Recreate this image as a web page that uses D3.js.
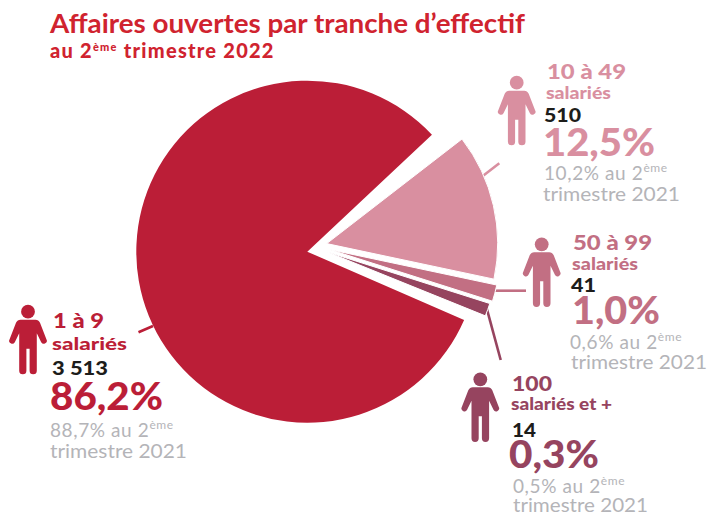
<!DOCTYPE html>
<html><head><meta charset="utf-8">
<script src="https://cdnjs.cloudflare.com/ajax/libs/d3/7.8.5/d3.min.js"></script>
<style>html,body{margin:0;padding:0;background:#fff}svg{display:block}text{font-family:Lato,"Open Sans",sans-serif}</style>
</head><body><div id="c"></div>
<script>
// ---- data ----
const categories = ["1 à 9", "10 à 49", "50 à 99", "100"];
const subLabels = ["salariés", "salariés", "salariés", "salariés et +"];
const counts = ["3 513", "510", "41", "14"];
const shares = ["86,2%", "12,5%", "1,0%", "0,3%"];
const priorShares = ["88,7%", "10,2%", "0,6%", "0,5%"];
// slice sweep as drawn in the picture, in degrees (the drawing is not strictly proportional)
const drawnSweep = [293.3, 49.7, 5.6, 4.4];

// ---- style and layout ----
const colors = ["#BB1E37", "#D98FA0", "#C26F83", "#96445F"];
const apex = [[307.3, 251.7], [326.7, 243.6], [329.5, 249.5], [326.8, 251.8]];
const firstAngle = [113.5, 52.3]; // main slice start, small slices start
const radius = 171;
const W = 709, H = 515;
const rad = Math.PI / 180;

const svg = d3.select("#c").append("svg").attr("width", W).attr("height", H);

const grouped = [[0], [1, 2, 3]];
const arcGen = d3.arc().innerRadius(0).outerRadius(radius);
const slices = [];
grouped.forEach((idx, g) => {
  const total = d3.sum(idx, i => drawnSweep[i]);
  const pie = d3.pie().sort(null).value(i => drawnSweep[i])
    .startAngle(firstAngle[g] * rad).endAngle((firstAngle[g] + total) * rad);
  pie(idx).forEach(d => slices.push({ i: d.data, startAngle: d.startAngle, endAngle: d.endAngle }));
});

// leader lines, under the slices
const leaderEnds = [[138.5, 332.3], [499.3, 163.3], [526, 290.7], [500.7, 360]];
const leaderAnchor = [[153, 326], [481.5, 177], [495, 290.7], [486.7, 308.3]];
svg.selectAll("line.leader").data(slices).join("line").attr("class", "leader")
  .attr("x1", d => leaderAnchor[d.i][0]).attr("y1", d => leaderAnchor[d.i][1])
  .attr("x2", d => leaderEnds[d.i][0]).attr("y2", d => leaderEnds[d.i][1])
  .attr("stroke", d => colors[d.i]).attr("stroke-width", 2.6);

svg.selectAll("path.slice").data(slices).join("path").attr("class", "slice")
  .attr("transform", d => `translate(${apex[d.i]})`)
  .attr("d", arcGen).attr("fill", d => colors[d.i])
  .attr("stroke", "#fff").attr("stroke-width", d => d.i >= 1 ? 1 : 0);

// title
const titleColor = "#D0232F";
svg.append("text").attr("x", 50).attr("y", 33).attr("fill", titleColor)
  .attr("font-size", 26).attr("font-weight", 700)
  .attr("textLength", 475).attr("lengthAdjust", "spacingAndGlyphs")
  .text("Affaires ouvertes par tranche d’effectif");
const sub = svg.append("text").attr("x", 50).attr("y", 58).attr("fill", titleColor)
  .attr("font-size", 20).attr("font-weight", 900).attr("letter-spacing", 1.25);
sub.append("tspan").text("au 2");
sub.append("tspan").attr("font-size", 11).attr("dy", -7).text("ème");
sub.append("tspan").attr("dy", 7).text(" trimestre 2022");

// person icon, drawn around the head centre
const personBody = "M-7.5,8H7.5Q10.5,8 12,11L18.4,27.5A3,3 0 0 1 13.2,30.5L8.8,21.5V59A3.6,3.6 0 0 1 1.6,59V37H-1.6V59A3.6,3.6 0 0 1 -8.8,59V21.5L-13.2,30.5A3,3 0 0 1 -18.4,27.5L-12,11Q-10.5,8 -7.5,8Z";
const heads = [[28, 311.7], [516.7, 82.7], [541.7, 244.3], [480.3, 379.3]];
const icons = svg.selectAll("g.icon").data(categories).join("g").attr("class", "icon")
  .attr("transform", (d, i) => `translate(${heads[i]})`).attr("fill", (d, i) => colors[i]);
icons.append("circle").attr("r", 6.9);
icons.append("path").attr("d", personBody);

// label blocks: [x, baseline, width] per text row
const catRow = [[53, 328, 51], [547, 79, 79], [573, 250, 79], [512, 391, 40]];
const subRow = [[52, 350, 75], [546, 99, 65], [572, 270, 66], [511, 410, 101]];
const cntRow = [[52, 375, 56], [544, 122, 37], [571, 292, 25], [512, 437, 24]];
const pctRow = [[50, 410, 113], [543, 156, 112], [572, 324, 88], [509, 468, 90]];
const priorRow = [[50, 437], [544, 180], [570, 349], [513, 493]];
const yearRow = [[50, 458, 137], [543, 201, 137], [571, 369, 136], [513, 512, 135]];
const ink = "#1D1D1B", grey = "#B4B4B8";

function row(cfg, texts, size, weight, fill) {
  svg.selectAll(null).data(texts).join("text")
    .attr("x", (d, i) => cfg[i][0]).attr("y", (d, i) => cfg[i][1])
    .attr("font-size", size).attr("font-weight", weight)
    .attr("fill", (d, i) => fill(i))
    .attr("textLength", (d, i) => cfg[i][2]).attr("lengthAdjust", "spacingAndGlyphs")
    .text(d => d);
}
row(catRow, categories, 21, 900, i => colors[i]);
row(subRow, subLabels, 17.5, 900, i => colors[i]);
row(cntRow, counts, 18.5, 900, () => ink);
row(pctRow, shares, 37, 900, i => colors[i]);
row(yearRow, categories.map(() => "trimestre 2021"), 19, 400, () => grey);

svg.selectAll(null).data(priorShares).join("text")
  .attr("x", (d, i) => priorRow[i][0]).attr("y", (d, i) => priorRow[i][1])
  .attr("font-size", 19).attr("font-weight", 400).attr("fill", grey).attr("letter-spacing", 0.6)
  .each(function (d) {
    const t = d3.select(this);
    t.append("tspan").text(d + " au 2");
    t.append("tspan").attr("font-size", 12).attr("dy", -8).text("ème");
  });
</script></body></html>
